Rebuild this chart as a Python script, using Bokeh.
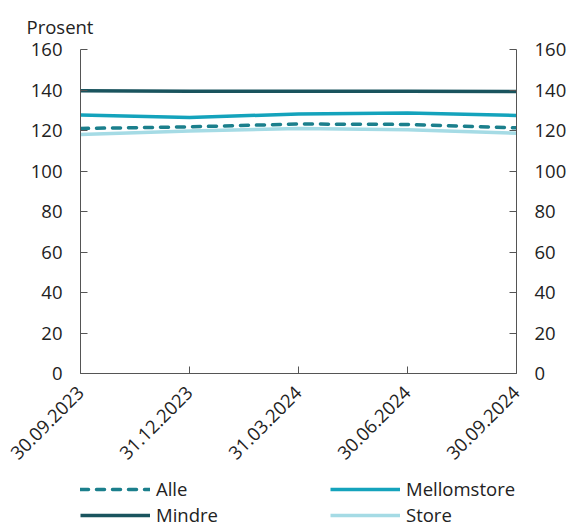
from bokeh.plotting import figure
from bokeh.layouts import column
from bokeh.models import (ColumnDataSource, LinearAxis, Range1d, FixedTicker, Legend, LegendItem)
from bokeh.embed import file_html
from bokeh.resources import INLINE

dates = ["30.09.2023", "31.12.2023", "31.03.2024", "30.06.2024", "30.09.2024"]
alle = [121.0, 121.8, 123.2, 123.0, 121.3]
mindre = [139.6, 139.4, 139.4, 139.4, 139.2]
mellomstore = [127.6, 126.4, 128.2, 128.6, 127.4]
store = [118.0, 119.8, 121.0, 120.4, 118.6]
yticks = [0, 20, 40, 60, 80, 100, 120, 140, 160]

FONT = "Open Sans"
FS = "18.5px"
TXT = "#222222"
AX = "#555555"
C_ALLE, C_MINDRE, C_MELL, C_STORE = "#1b7f8c", "#1a545e", "#14a3bc", "#a5dbe5"

x = list(range(len(dates)))
src = ColumnDataSource(dict(x=x, alle=alle, mindre=mindre, mellomstore=mellomstore, store=store))

p = figure(width=572, height=478, output_backend="svg", toolbar_location=None,
           x_range=Range1d(0, len(dates) - 1), y_range=Range1d(0, 160),
           min_border_left=80, min_border_right=56, min_border_top=49, min_border_bottom=105)
p.outline_line_color = None
p.grid.visible = False
p.background_fill_color = "white"

p.line("x", "store", source=src, line_color=C_STORE, line_width=3.5)
p.line("x", "mellomstore", source=src, line_color=C_MELL, line_width=3.5)
p.line("x", "mindre", source=src, line_color=C_MINDRE, line_width=3.5)
p.line("x", "alle", source=src, line_color=C_ALLE, line_width=3.5,
       line_dash="8 8", line_cap="round")

def style_axis(ax):
    ax.axis_line_color = AX
    ax.major_tick_line_color = AX
    ax.minor_tick_line_color = None
    ax.major_tick_in = 7
    ax.major_tick_out = 0
    ax.major_label_text_font = FONT
    ax.major_label_text_font_size = FS
    ax.major_label_text_color = TXT

yax = p.yaxis[0]
yax.ticker = FixedTicker(ticks=yticks)
style_axis(yax)
yax.major_label_standoff = 18

rax = LinearAxis(ticker=FixedTicker(ticks=yticks))
style_axis(rax)
rax.major_label_standoff = 18
p.add_layout(rax, "right")

xax = p.xaxis[0]
xax.ticker = FixedTicker(ticks=x)
xax.major_label_overrides = {i: d for i, d in enumerate(dates)}
xax.major_label_orientation = 0.785398
style_axis(xax)
xax.major_label_standoff = 16

p.title.text = "Prosent"
p.title.text_font = FONT
p.title.text_font_size = FS
p.title.text_font_style = "normal"
p.title.text_color = TXT
p.title.offset = -54
p.title.standoff = 22

# legend strip below the chart (frame aligned with the chart's frame: 80..516)
lf = figure(width=572, height=47, output_backend="svg", toolbar_location=None,
            x_range=Range1d(0, 1), y_range=Range1d(0, 1),
            x_axis_location=None, y_axis_location=None,
            min_border_left=80, min_border_right=56, min_border_top=0, min_border_bottom=0)
lf.grid.visible = False
lf.outline_line_color = None
nan = float("nan")
proxy = ColumnDataSource(dict(x=[nan], y=[nan]))
l_alle = lf.line("x", "y", source=proxy, line_color=C_ALLE, line_width=3.5,
                 line_dash="8 8", line_cap="round")
l_mindre = lf.line("x", "y", source=proxy, line_color=C_MINDRE, line_width=3.5)
l_mell = lf.line("x", "y", source=proxy, line_color=C_MELL, line_width=3.5)
l_store = lf.line("x", "y", source=proxy, line_color=C_STORE, line_width=3.5)

def mk_legend(items, loc):
    lg = Legend(items=items, location=loc, orientation="vertical")
    lg.label_text_font = FONT
    lg.label_text_font_size = FS
    lg.label_text_color = TXT
    lg.glyph_width = 70
    lg.glyph_height = 20
    lg.label_height = 20
    lg.label_standoff = 6
    lg.spacing = 1
    lg.padding = 0
    lg.margin = 0
    lg.border_line_color = None
    lg.background_fill_alpha = 0
    return lg

lf.add_layout(mk_legend([LegendItem(label="Alle", renderers=[l_alle]),
                         LegendItem(label="Mindre", renderers=[l_mindre])], (0, -2)), "center")
lf.add_layout(mk_legend([LegendItem(label="Mellomstore", renderers=[l_mell]),
                         LegendItem(label="Store", renderers=[l_store])], (250, -2)), "center")

layout = column(p, lf, spacing=0)
open("out.html", "w").write(file_html(layout, INLINE))
